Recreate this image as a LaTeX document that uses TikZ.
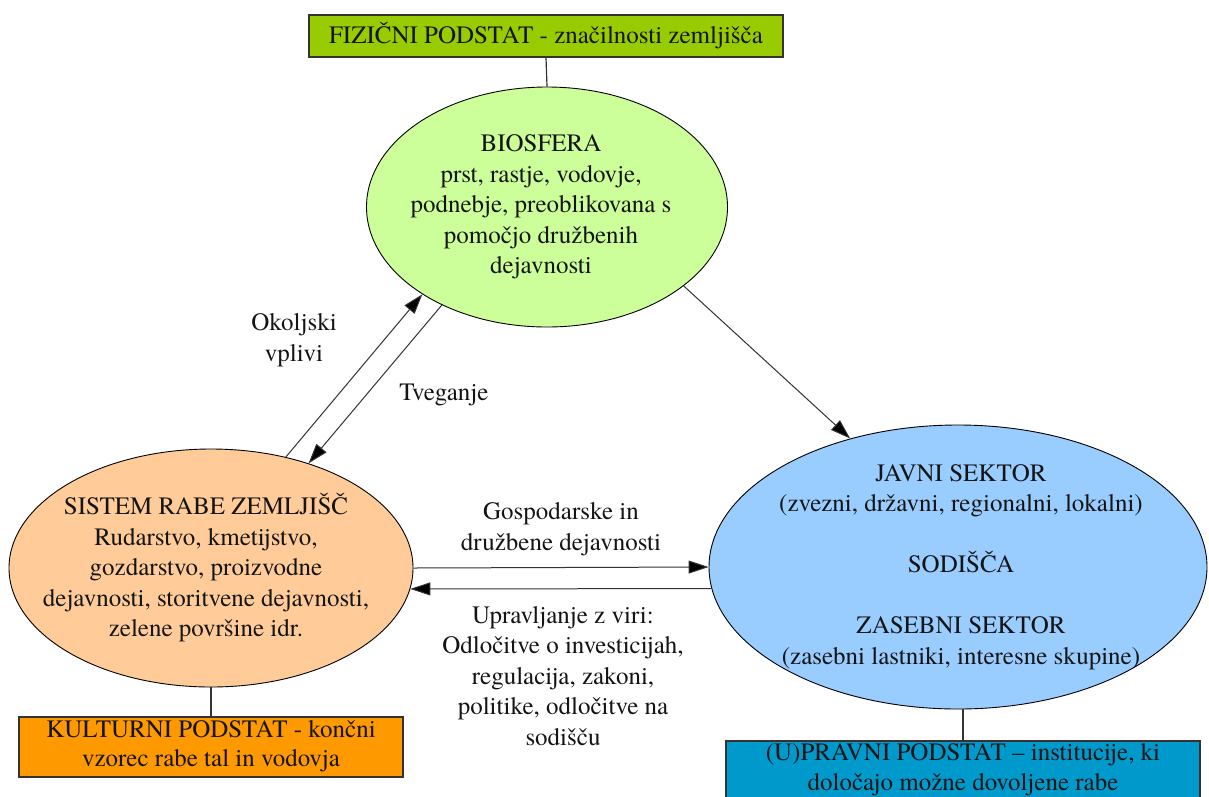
\documentclass[tikz,border=0pt]{standalone}
\usepackage{fontspec}
\setmainfont{TeX Gyre Termes}
\usetikzlibrary{shapes.geometric,arrows.meta}

\definecolor{fizgreen}{HTML}{99CC00}
\definecolor{biogreen}{HTML}{CCFF99}
\definecolor{sisorange}{HTML}{FFCC99}
\definecolor{kulorange}{HTML}{FF9900}
\definecolor{javblue}{HTML}{99CCFF}
\definecolor{pravblue}{HTML}{0099CC}
\definecolor{edge}{HTML}{333333}
\definecolor{ink}{HTML}{141414}

\begin{document}
\begin{tikzpicture}[x=1pt,y=-1pt,
  txt/.style={font=\fontsize{25}{30.5}\selectfont, align=center, inner sep=0pt, text=ink},
  boxtxt/.style={font=\fontsize{25}{29}\selectfont, align=center, inner sep=0pt, text=ink},
  field/.style={ellipse, draw=black, line width=0.9pt, inner sep=0pt},
  basebox/.style={rectangle, draw=edge, line width=1.4pt, inner sep=0pt},
  link/.style={draw=edge, line width=1.2pt},
  arr/.style={draw=edge, line width=1pt, -{Triangle[length=20pt,width=13pt,fill=black]}}]

\clip (0,0) rectangle (1209,796);
\fill[white] (0,0) rectangle (1209,796);

% ellipses of the three systems
\node[field, fill=biogreen, minimum width=361pt, minimum height=240pt] (bio) at (547,207) {};
\node[field, fill=sisorange, minimum width=404pt, minimum height=238pt] (sis) at (211,568) {};
\node[field, fill=javblue, minimum width=498pt, minimum height=284pt] (jav) at (958,567) {};

\node[txt] (biotxt) at (541,207) {BIOSFERA\\prst, rastje, vodovje,\\podnebje, preoblikovana s\\pomočjo družbenih\\dejavnosti};
\node[txt] (sistxt) at (206,568) {SISTEM RABE ZEMLJIŠČ\\Rudarstvo, kmetijstvo,\\gozdarstvo, proizvodne\\dejavnosti, storitvene dejavnosti,\\zelene površine idr.};
\node[txt] (javtxt) at (961,567) {JAVNI SEKTOR\\(zvezni, državni, regionalni, lokalni)\\[30.5pt]SODIŠČA\\[30.5pt]ZASEBNI SEKTOR\\(zasebni lastniki, interesne skupine)};

% substrate boxes
\node[basebox, fill=fizgreen, minimum width=474pt, minimum height=42pt] (fiz) at (546,36) {};
\node[boxtxt] (fiztxt) at (546,36) {FIZIČNI PODSTAT - značilnosti zemljišča};
\node[basebox, fill=kulorange, minimum width=384pt, minimum height=60pt] (kul) at (211,747) {};
\node[boxtxt] (kultxt) at (211,746) {KULTURNI PODSTAT - končni\\vzorec rabe tal in vodovja};
\node[basebox, fill=pravblue, minimum width=474pt, minimum height=72pt] (prav) at (963,777) {};
\node[boxtxt, font=\fontsize{25}{30}\selectfont] (pravtxt) at (963,770) {(U)PRAVNI PODSTAT – institucije, ki\\določajo možne dovoljene rabe};

% links between boxes and ellipses
\draw[link] (fiz.south) -- (bio.north);
\draw[link] (sis.south) -- (kul.north);
\draw[link] (prav.north |- jav.south) -- (prav.north);

% flows
\draw[arr] (sis.56.3) -- (bio.215.4);
\draw[arr] (bio.223.6) -- (sis.47);
\draw[arr] (bio.330.5) -- (jav.130);
\draw[arr] (sis.east) -- (jav.west);
\draw[arr] (jav.185.1) -- (sis.-6.03);

% flow labels
\node[txt] (lokolj) at (294,340) {Okoljski\\vplivi};
\node[txt] (ltveg) at (444,395) {Tveganje};
\node[txt] (lgosp) at (561,529) {Gospodarske in\\družbene dejavnosti};
\node[txt] (luprav) at (563,676) {Upravljanje z viri:\\Odločitve o investicijah,\\regulacija, zakoni,\\politike, odločitve na\\sodišču};

\end{tikzpicture}
\end{document}
